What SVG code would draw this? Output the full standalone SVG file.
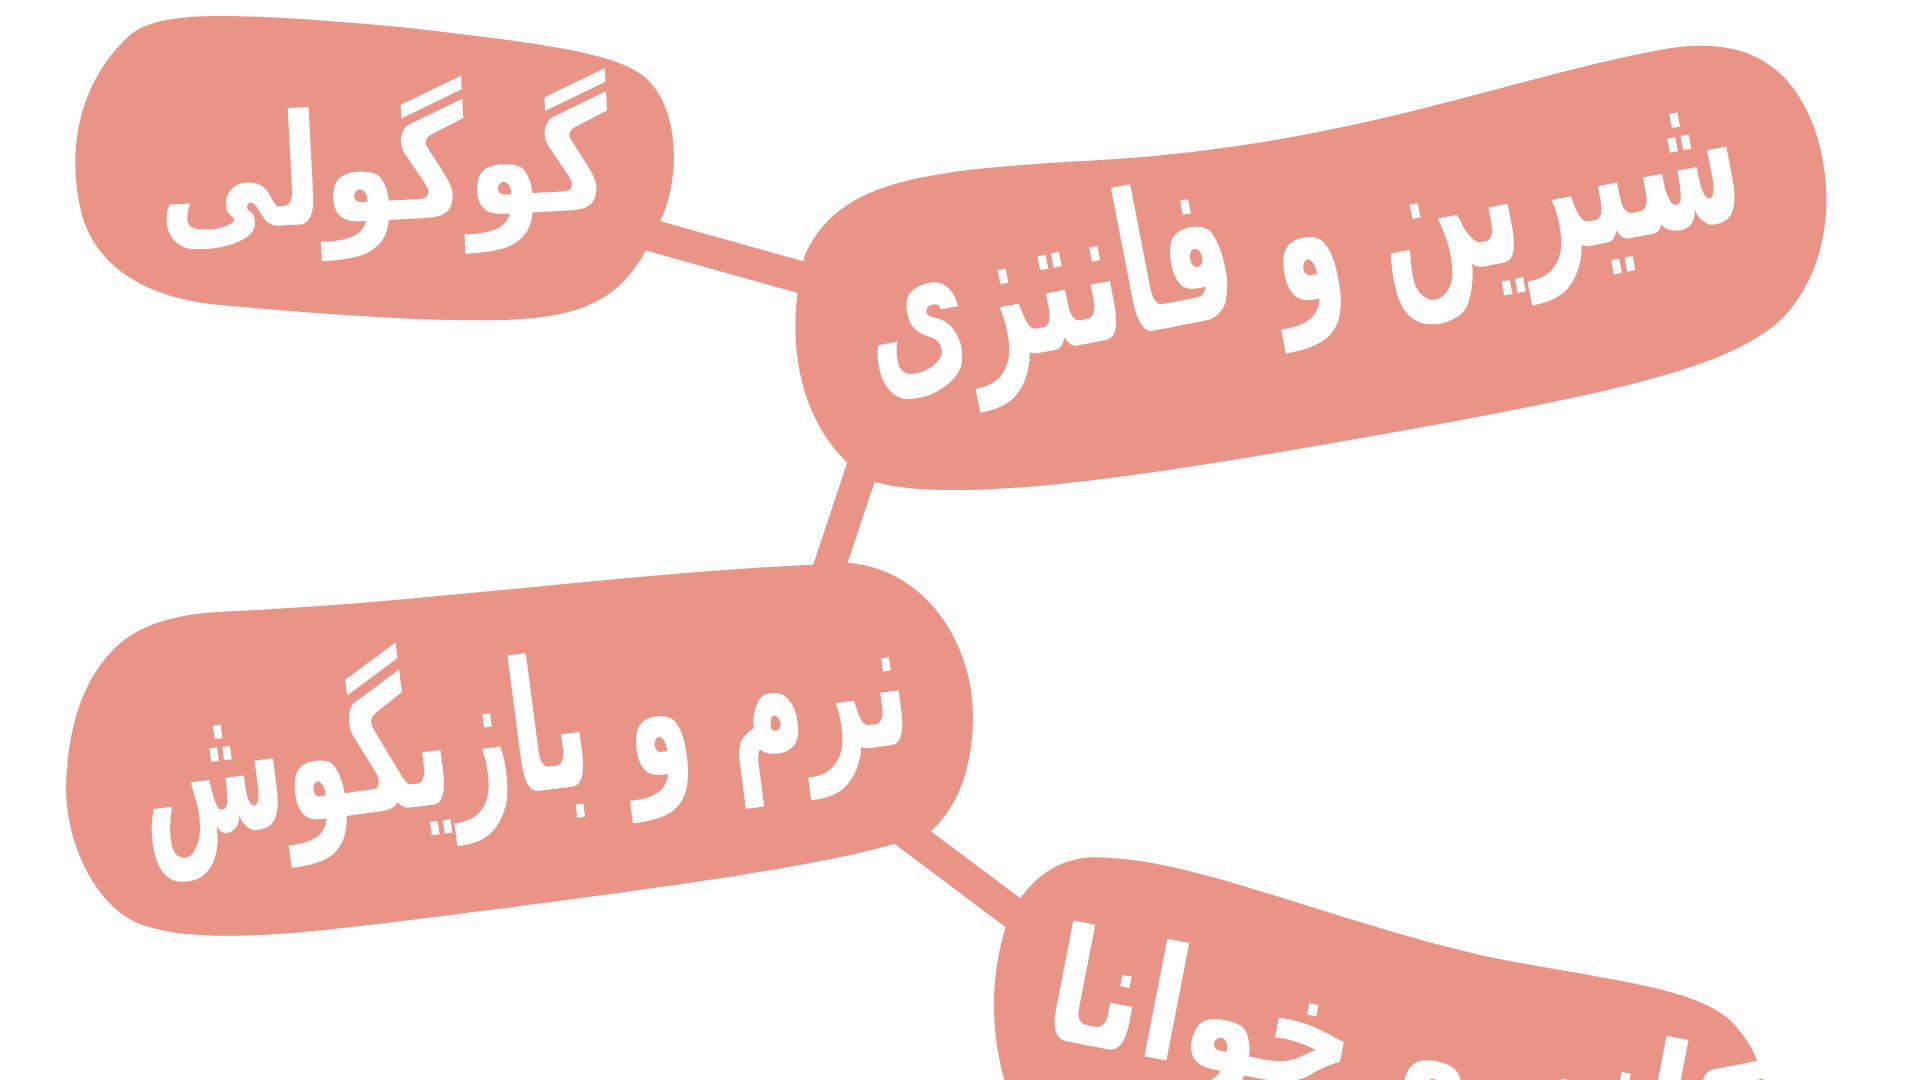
<svg xmlns="http://www.w3.org/2000/svg" width="1920" height="1080" viewBox="0 0 1920 1080">
  <style>
    .blob { fill: #E99486; }
    .link { stroke: #E99486; stroke-width: 32; stroke-linecap: butt; fill: none; }
    .label { fill: #FFFFFF; font-family: "DejaVu Sans", sans-serif; font-weight: bold; }
  </style>
  <rect width="1920" height="1080" fill="#FFFFFF"/>
  <g id="connectors">
    <line class="link" x1="600" y1="221" x2="850" y2="291"/>
    <line class="link" x1="875" y1="430" x2="815" y2="610"/>
    <line class="link" x1="880" y1="813" x2="1040" y2="933"/>
  </g>
  <g id="node-1">
    <path class="blob" d="M 82,215 C 65,150 80,80 130,35 C 160,10 230,12 400,27 C 560,45 625,55 650,82 C 680,115 680,180 660,222 C 630,290 600,318 500,320 C 420,322 300,312 220,305 C 140,298 95,262 82,215 Z"/>
    <text class="label" x="0" y="0" font-size="140" text-anchor="middle" textLength="453" lengthAdjust="spacingAndGlyphs" transform="translate(386 220) rotate(-3) scale(1 1.1)">گوگولی</text>
  </g>
  <g id="node-2">
    <path class="blob" d="M 805,255 C 840,180 920,170 1100,160 C 1350,145 1500,80 1660,50 C 1740,35 1790,60 1815,130 C 1835,190 1830,260 1790,310 C 1740,370 1600,395 1350,440 C 1150,475 960,505 875,482 C 820,455 775,370 805,255 Z"/>
    <text class="label" x="0" y="0" font-size="150" text-anchor="middle" textLength="890" lengthAdjust="spacingAndGlyphs" transform="translate(1312 300) rotate(-11) scale(1 1.3)">شیرین و فانتزی</text>
  </g>
  <g id="node-3">
    <path class="blob" d="M 257,610 C 450,600 650,570 849,563 C 930,570 975,650 973,720 C 972,780 950,815 930,832 C 860,860 720,880 490,910 C 330,930 200,950 135,922 C 90,900 60,830 67,770 C 72,700 100,640 160,622 C 190,612 220,612 257,610 Z"/>
    <text class="label" x="0" y="0" font-size="140" text-anchor="middle" textLength="775" lengthAdjust="spacingAndGlyphs" transform="translate(530 792) rotate(-7.4) scale(1 1.3)">نرم و بازیگوش</text>
  </g>
  <g id="node-4">
    <path class="blob" d="M 1010,915 C 1040,860 1080,855 1110,858 C 1200,862 1330,920 1480,955 C 1600,980 1690,985 1730,1020 C 1760,1050 1765,1080 1770,1120 L 1020,1120 C 990,1060 985,980 1010,915 Z"/>
    <text class="label" x="0" y="0" font-size="150" transform="translate(1040 1036) rotate(11) scale(0.85 1.05)">کودکانه و خوانا</text>
  </g>
</svg>
